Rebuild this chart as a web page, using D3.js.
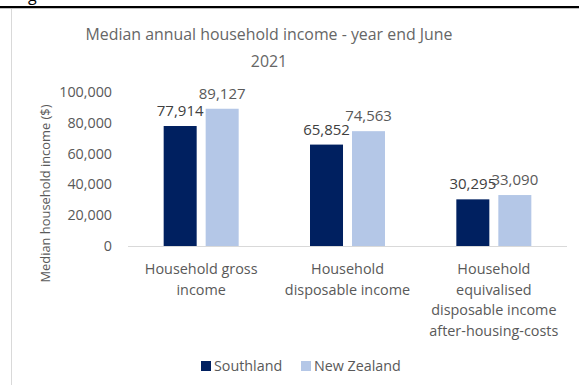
<!DOCTYPE html>
<html>
<head>
<meta charset="utf-8">
<script src="https://cdn.jsdelivr.net/npm/d3@7"></script>
<style>
  html, body { margin: 0; padding: 0; background: #fff; }
  svg { display: block; font-family: "Open Sans", sans-serif; }
</style>
</head>
<body>
<svg id="chart" width="579" height="385"></svg>
<script>
const categories = [
  ["Household gross", "income"],
  ["Household", "disposable income"],
  ["Household", "equivalised", "disposable income", "after-housing-costs"]
];
const categoryKeys = ["gross", "disposable", "equivalised"];
const seriesNames = ["Southland", "New Zealand"];
const southland = [77914, 65852, 30295];
const newZealand = [89127, 74563, 33090];
const yTicks = [0, 20000, 40000, 60000, 80000, 100000];
const titleLines = ["Median annual household income - year end June", "2021"];
const yAxisTitle = "Median household income ($)";

const colors = { "Southland": "#002060", "New Zealand": "#B4C7E7" };
const labelColors = { "Southland": "#404040", "New Zealand": "#595959" };
const values = { "Southland": southland, "New Zealand": newZealand };

const svg = d3.select("#chart");

// page artefacts: top rule and chart frame
svg.append("rect").attr("x", 0).attr("y", 6).attr("width", 579).attr("height", 2).attr("fill", "#000");
svg.append("rect").attr("x", 0).attr("y", 8).attr("width", 579).attr("height", 1).attr("fill", "#bfbfbf");
svg.append("rect").attr("x", 11).attr("y", 9).attr("width", 1).attr("height", 376).attr("fill", "#d9d9d9");
svg.append("text").attr("x", 28).attr("y", 1).attr("font-size", 16).attr("fill", "#000").text("g");

const plotLeft = 128, plotRight = 567, plotTop = 92, plotBottom = 246;

const x0 = d3.scaleBand().domain(categoryKeys).range([plotLeft, plotRight]).padding(0);
const x1 = d3.scaleBand().domain(seriesNames).range([-37.5, 37.5]).paddingInner(0.214).paddingOuter(0);
const y = d3.scaleLinear().domain([0, 100000]).range([plotBottom, plotTop]);

// Title
const title = svg.append("text").attr("text-anchor", "middle").attr("fill", "#666666").attr("font-size", 15.9);
titleLines.forEach((t, i) => {
  title.append("tspan").attr("x", 269).attr("y", 40 + i * 27).text(t);
});

// Y axis
const yAxis = d3.axisLeft(y).tickValues(yTicks).tickSize(0).tickPadding(0).tickFormat(d3.format(","));
const yG = svg.append("g").attr("transform", `translate(112,0)`).call(yAxis);
yG.select(".domain").remove();
yG.selectAll("text").attr("fill", "#595959").attr("font-size", 14.3).attr("font-family", "Open Sans");

// Y axis title
svg.append("text")
  .attr("transform", `translate(50,193.5) rotate(-90)`)
  .attr("text-anchor", "middle")
  .attr("fill", "#595959").attr("font-size", 12.9)
  .text(yAxisTitle);

// Bars
const groups = svg.selectAll("g.cat").data(categoryKeys).join("g")
  .attr("class", "cat")
  .attr("transform", d => `translate(${x0(d) + x0.bandwidth() / 2},0)`);

groups.each(function(key, ci) {
  const g = d3.select(this);
  seriesNames.forEach(s => {
    const v = values[s][ci];
    g.append("rect")
      .attr("x", x1(s)).attr("y", y(v))
      .attr("width", x1.bandwidth()).attr("height", y(0) - y(v))
      .attr("fill", colors[s]);
  });
});

// baseline
svg.append("line").attr("x1", plotLeft).attr("x2", plotRight).attr("y1", plotBottom + 0.5).attr("y2", plotBottom + 0.5)
  .attr("stroke", "#d9d9d9").attr("stroke-width", 1);

// data labels
groups.each(function(key, ci) {
  const g = d3.select(this);
  seriesNames.forEach(s => {
    const v = values[s][ci];
    g.append("text")
      .attr("x", x1(s) + x1.bandwidth() / 2).attr("y", y(v) - 10)
      .attr("text-anchor", "middle")
      .attr("fill", labelColors[s]).attr("font-size", 15)
      .text(d3.format(",")(v));
  });
});

// Category labels
groups.each(function(key, ci) {
  const t = d3.select(this).append("text").attr("text-anchor", "middle").attr("fill", "#595959").attr("font-size", 14.4);
  categories[ci].forEach((line, li) => {
    t.append("tspan").attr("x", 0).attr("y", 274 + li * 20.7).text(line);
  });
});

// Legend
const legend = svg.append("g");
const legendItems = [{ name: "Southland", x: 201 }, { name: "New Zealand", x: 301 }];
legendItems.forEach(it => {
  legend.append("rect").attr("x", it.x).attr("y", 361).attr("width", 10).attr("height", 10).attr("fill", colors[it.name]);
  legend.append("text").attr("x", it.x + 13).attr("y", 370.5).attr("fill", "#595959").attr("font-size", 14.3).text(it.name);
});
</script>
</body>
</html>
